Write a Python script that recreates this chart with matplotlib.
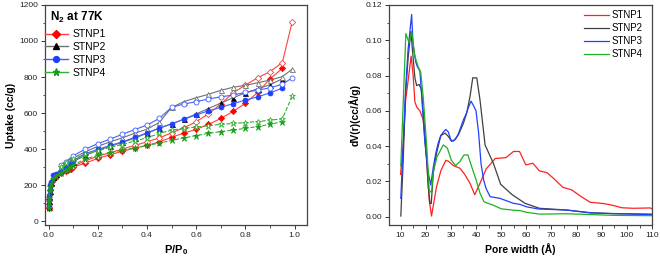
import matplotlib
matplotlib.use("Agg")
import matplotlib.pyplot as plt
from matplotlib.lines import Line2D
from matplotlib.ticker import MultipleLocator

plt.rcParams["font.family"] = ["Liberation Sans", "DejaVu Sans"]

# ISOTHERM DATA (LEFT PANEL)
p_ads = [0.0005, 0.001, 0.002, 0.004, 0.006, 0.01, 0.02, 0.03, 0.05, 0.07, 0.08, 0.09,
         0.1, 0.15, 0.2, 0.25, 0.3, 0.35, 0.4, 0.45, 0.5, 0.55, 0.6, 0.65, 0.7, 0.75,
         0.8, 0.85, 0.9, 0.95]
p_des = [0.99, 0.95, 0.9, 0.85, 0.8, 0.75, 0.7, 0.65, 0.6, 0.55, 0.5, 0.45, 0.4, 0.35,
         0.3, 0.25, 0.2, 0.15, 0.1, 0.07, 0.05]

ads_stnp1 = [70, 95, 120, 150, 175, 200, 230, 245, 265, 278, 285, 292, 300, 322, 348, 368,
             388, 405, 420, 440, 465, 489, 509, 537, 570, 609, 654, 715, 789, 848]
ads_stnp2 = [80, 110, 135, 165, 190, 210, 245, 262, 290, 308, 315, 322, 330, 365, 393, 415,
             437, 460, 488, 515, 540, 566, 595, 625, 655, 685, 712, 735, 757, 790]
ads_stnp3 = [85, 115, 140, 175, 200, 215, 255, 262, 280, 300, 310, 320, 335, 375, 398, 420,
             440, 465, 490, 517, 540, 565, 590, 612, 632, 652, 672, 690, 712, 738]
ads_stnp4 = [75, 105, 130, 165, 190, 205, 235, 250, 268, 285, 292, 300, 312, 345, 365, 380,
             393, 407, 420, 433, 448, 462, 475, 487, 497, 505, 515, 525, 537, 553]

des_stnp1 = [1105, 880, 830, 796, 755, 712, 650, 595, 552, 518, 490, 462, 440, 420, 400,
             380, 360, 335, 305, 290, 280]
des_stnp2 = [843, 802, 783, 768, 754, 743, 726, 704, 685, 663, 631, 548, 510, 488, 462,
             440, 415, 385, 350, 330, 310]
des_stnp3 = [795, 760, 740, 727, 715, 700, 690, 678, 663, 650, 632, 570, 533, 508, 482,
             455, 430, 400, 363, 330, 312]
des_stnp4 = [693, 568, 560, 553, 547, 542, 537, 530, 522, 515, 505, 487, 462, 445, 425,
             410, 390, 370, 345, 320, 300]

# PORE SIZE DISTRIBUTION DATA (RIGHT PANEL)
w_stnp1 = [10, 11, 12, 13, 14.2, 15, 15.7, 16.5, 17.7, 19, 20.4, 21.4, 22.3, 24.3, 26, 28,
           29, 31, 33.6, 35.5, 37.6, 39.5, 41.6, 44, 47.6, 51.9, 54.9, 57.3, 59.8, 62.6,
           65.2, 68.2, 70.8, 74.5, 78.1, 81.4, 85.4, 90.7, 94, 98, 102.7, 109.3, 110]
v_stnp1 = [0.024, 0.040, 0.066, 0.077, 0.091, 0.080, 0.065, 0.062, 0.060, 0.055, 0.032,
           0.0095, 0.0004, 0.017, 0.026, 0.032, 0.0315, 0.029, 0.0275, 0.024, 0.019, 0.0125,
           0.019, 0.027, 0.033, 0.0335, 0.037, 0.037, 0.0294, 0.0303, 0.026, 0.025, 0.0218,
           0.0167, 0.0152, 0.0118, 0.0082, 0.0075, 0.0066, 0.0051, 0.0048, 0.005, 0.0044]

w_stnp2 = [10.1, 11, 12, 13, 14.1, 15, 15.7, 16.4, 17.4, 18.3, 19.7, 21, 21.7, 22.2, 23,
           24.3, 26, 27.7, 29, 30.3, 31.6, 33, 35, 36.3, 37.6, 38.7, 40.3, 41.6, 43.6, 46.9,
           49.8, 54.2, 59.5, 65.2, 76.1, 85.4, 95, 110]
v_stnp2 = [0.0004, 0.030, 0.070, 0.090, 0.105, 0.090, 0.0787, 0.0743, 0.075, 0.072, 0.047,
           0.017, 0.0076, 0.0075, 0.0246, 0.036, 0.046, 0.0474, 0.0455, 0.0427, 0.0436,
           0.0465, 0.053, 0.0588, 0.068, 0.0787, 0.0787, 0.066, 0.0407, 0.0303, 0.0184,
           0.0127, 0.0076, 0.0048, 0.0038, 0.0023, 0.0018, 0.0015]

w_stnp3 = [10.1, 11, 12, 13, 14.4, 15, 16, 16.6, 17.7, 19.7, 21, 22, 23, 24, 25, 26, 27, 28,
           29, 30, 31, 32, 33, 34, 35, 36, 37, 38, 39, 40, 41, 42, 43, 44, 45.6, 49.6, 54.9,
           57.5, 60.2, 64.8, 76.1, 85.4, 95, 110]
v_stnp3 = [0.0104, 0.040, 0.072, 0.095, 0.1146, 0.097, 0.088, 0.0853, 0.0825, 0.0417, 0.025,
           0.018, 0.028, 0.036, 0.042, 0.046, 0.048, 0.0495, 0.048, 0.0435, 0.043, 0.0445,
           0.047, 0.051, 0.055, 0.058, 0.062, 0.0655, 0.063, 0.060, 0.048, 0.030, 0.021,
           0.016, 0.0114, 0.0104, 0.0076, 0.0070, 0.0056, 0.0044, 0.0038, 0.0022, 0.0017,
           0.0012]

w_stnp4 = [10.1, 12.1, 13.4, 14.4, 15.7, 17, 18, 19, 20.4, 21.4, 22.3, 23, 24.5, 27, 28.6,
           30.2, 31.9, 33.6, 35.2, 36.8, 37.9, 40, 41.6, 43.2, 45, 47, 50, 55, 57.5, 60.2,
           65.2, 76, 94.6, 110]
v_stnp4 = [0.0288, 0.1038, 0.0985, 0.105, 0.0909, 0.085, 0.082, 0.068, 0.040, 0.015, 0.0136,
           0.0256, 0.034, 0.0407, 0.0389, 0.032, 0.029, 0.0313, 0.035, 0.035, 0.030, 0.021,
           0.0133, 0.0085, 0.0075, 0.0065, 0.0045, 0.0037, 0.0035, 0.0025, 0.0015, 0.0017,
           0.0008, 0.0006]

labels = ["STNP1", "STNP2", "STNP3", "STNP4"]
marker_colors = ["#ff0000", "#000000", "#1f3fff", "#1a9a1a"]
line_colors = ["#ff4040", "#707070", "#4060ff", "#30b030"]
markers = ["D", "^", "o", "*"]
marker_sizes = [3.2, 3.6, 3.6, 4.6]
styles = ["-", "-", "-", "--"]
psd_colors = ["#ff2020", "#404040", "#2040ff", "#20b020"]

ads_all = [ads_stnp1, ads_stnp2, ads_stnp3, ads_stnp4]
des_all = [des_stnp1, des_stnp2, des_stnp3, des_stnp4]
w_all = [w_stnp1, w_stnp2, w_stnp3, w_stnp4]
v_all = [v_stnp1, v_stnp2, v_stnp3, v_stnp4]

fig = plt.figure(figsize=(6.6, 2.62), dpi=100)
ax1 = fig.add_axes([0.068, 0.141, 0.397, 0.840])
ax2 = fig.add_axes([0.589, 0.141, 0.399, 0.840])

# LEFT PANEL: ISOTHERMS
handles = []
for i in range(4):
    ax1.plot(p_ads, ads_all[i], linestyle=styles[i], color=line_colors[i], lw=0.8,
             marker=markers[i], ms=marker_sizes[i], mfc=marker_colors[i],
             mec=marker_colors[i], mew=0.5)
    ax1.plot(p_des, des_all[i], linestyle=styles[i], color=line_colors[i], lw=0.8,
             marker=markers[i], ms=marker_sizes[i], mfc="white",
             mec=line_colors[i], mew=0.6)
    handles.append(Line2D([], [], color=line_colors[i], lw=1.0, marker=markers[i],
                          ms=marker_sizes[i] + 0.6, mfc=marker_colors[i],
                          mec=marker_colors[i]))

ax1.set_xlim(-0.015, 1.05)
ax1.set_ylim(-22, 1200)
ax1.xaxis.set_major_locator(MultipleLocator(0.2))
ax1.xaxis.set_minor_locator(MultipleLocator(0.1))
ax1.yaxis.set_major_locator(MultipleLocator(200))
ax1.yaxis.set_minor_locator(MultipleLocator(100))
ax1.xaxis.set_major_formatter(plt.FormatStrFormatter("%.1f"))
ax1.set_xlabel("P/P$_\\mathregular{0}$", fontsize=8, fontweight="bold", labelpad=3)
ax1.set_ylabel("Uptake (cc/g)", fontsize=7.5, fontweight="bold", labelpad=2)
ax1.text(0.018, 0.945, "N$_\\mathregular{2}$ at 77K", transform=ax1.transAxes,
         fontsize=8.5, fontweight="bold", va="center", ha="left")
ax1.legend(handles, labels, loc="upper left", bbox_to_anchor=(0.0, 0.89),
           frameon=False, fontsize=7.5, handlelength=2.2, handletextpad=0.45,
           labelspacing=0.28, borderpad=0, borderaxespad=0)

# RIGHT PANEL: PORE SIZE DISTRIBUTION
for i in range(4):
    ax2.plot(w_all[i], v_all[i], color=psd_colors[i], lw=0.9, label=labels[i])

ax2.set_xlim(5.3, 110)
ax2.set_ylim(-0.0047, 0.12)
ax2.xaxis.set_major_locator(MultipleLocator(10))
ax2.xaxis.set_minor_locator(MultipleLocator(5))
ax2.yaxis.set_major_locator(MultipleLocator(0.02))
ax2.yaxis.set_minor_locator(MultipleLocator(0.01))
ax2.yaxis.set_major_formatter(plt.FormatStrFormatter("%.2f"))
ax2.set_xlabel("Pore width (\u00c5)", fontsize=7.5, fontweight="bold", labelpad=3)
ax2.set_ylabel("dV(r)(cc/\u00c5/g)", fontsize=7.5, fontweight="bold", labelpad=3)
ax2.legend(loc="upper right", bbox_to_anchor=(0.965, 0.975), frameon=False,
           fontsize=7, handlelength=2.6, handletextpad=0.3, labelspacing=0.3,
           borderpad=0, borderaxespad=0)

for ax in (ax1, ax2):
    for s in ax.spines.values():
        s.set_color("#444444")
        s.set_linewidth(0.9)
    ax.tick_params(which="major", direction="out", length=3, width=0.7,
                   labelsize=6, pad=2, colors="#333333", labelcolor="#222222")
    ax.tick_params(which="minor", direction="out", length=1.8, width=0.6,
                   colors="#333333")

fig.savefig("out.png", dpi=100)
